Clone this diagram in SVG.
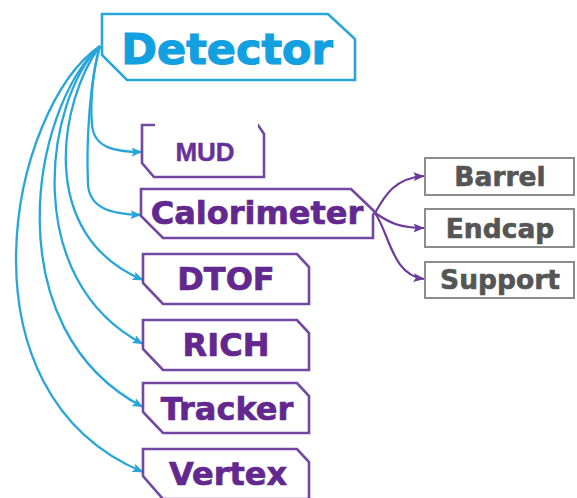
<svg xmlns="http://www.w3.org/2000/svg" width="577" height="498" viewBox="0 0 577 498">
<defs>
<style>
.cy{fill:none;stroke:#29a6d9;stroke-width:2.3;}
.pu{fill:none;stroke:#6d3a9c;stroke-width:2.2;}
.pbox{fill:#fff;stroke:#7348a3;stroke-width:2.6;}
.gbox{fill:#fff;stroke:#8c8c8c;stroke-width:2;}
.pt{font-family:"DejaVu Sans",sans-serif;font-weight:bold;font-size:32px;fill:#62288f;stroke:#62288f;stroke-width:0.7;text-anchor:middle;}
.gt{font-family:"DejaVu Sans",sans-serif;font-weight:bold;font-size:26.5px;fill:#555;stroke:#555;stroke-width:0.6;text-anchor:middle;}
</style>
<marker id="ac" viewBox="0 0 10 8" refX="9.5" refY="4" markerUnits="userSpaceOnUse" markerWidth="11" markerHeight="9" orient="auto"><path d="M0,0 L10,4 L0,8 L2,4 Z" fill="#29a6d9"/></marker>
<marker id="ap" viewBox="0 0 10 8" refX="9.5" refY="4" markerUnits="userSpaceOnUse" markerWidth="11" markerHeight="9" orient="auto"><path d="M0,0 L10,4 L0,8 L2,4 Z" fill="#6d3a9c"/></marker>
</defs>
<rect width="577" height="498" fill="#fff"/>
<g id="connectors">
<path class="cy" marker-end="url(#ac)" d="M100,46 C93,70 90,100 92,125 C94,148 115,152 142,152"/>
<path class="cy" marker-end="url(#ac)" d="M100,46 C90,80 86,140 88,185 C90,208 110,214 141,215"/>
<path class="cy" marker-end="url(#ac)" d="M100,46 C60,100 35,235 143,280"/>
<path class="cy" marker-end="url(#ac)" d="M100,46 C45,100 20,280 143,344"/>
<path class="cy" marker-end="url(#ac)" d="M100,46 C30,110 -5,330 143,407"/>
<path class="cy" marker-end="url(#ac)" d="M100,46 C10,108 -48,392 143,472"/>
<path class="pu" marker-end="url(#ap)" d="M375,213 C385,195 395,178 424,176"/>
<path class="pu" marker-end="url(#ap)" d="M375,213 C390,223 400,228 424,228"/>
<path class="pu" marker-end="url(#ap)" d="M375,213 C390,235 392,275 424,279"/>
</g>
<g id="detector">
<path d="M102,14 L328,14 L355,39 L355,80 L127,80 L102,55 Z" fill="#fff" stroke="#29a6d9" stroke-width="2.6"/>
<text x="227" y="64" font-family="DejaVu Sans,sans-serif" font-weight="bold" font-size="43" fill="#12a0e0" stroke="#12a0e0" stroke-width="1.2" text-anchor="middle">Detector</text>
</g>
<g id="mud">
<path class="pbox" d="M142,125 L258,125 L264,134 L264,177 L154,177 L142,163 Z"/>
<rect x="155" y="121" width="103" height="54" fill="#fff"/>
<text x="205" y="161" font-family="Liberation Sans,Arial,sans-serif" font-weight="bold" font-size="26" fill="#68309a" stroke="#68309a" stroke-width="0.4" text-anchor="middle">MUD</text>
</g>
<g id="calorimeter">
<path class="pbox" d="M141,189 L351,189 L375,212 L373,215 L373,238 L163,238 L141,216 Z"/>
<text class="pt" x="257" y="224">Calorimeter</text>
</g>
<g id="dtof">
<path class="pbox" d="M143,254 L297,254 L309,267 L309,304 L163,304 L143,283 Z"/>
<text class="pt" x="226" y="290">DTOF</text>
</g>
<g id="rich">
<path class="pbox" d="M143,320 L297,320 L309,333 L309,370 L163,370 L143,349 Z"/>
<text class="pt" x="226" y="356">RICH</text>
</g>
<g id="tracker">
<path class="pbox" d="M143,383 L297,383 L309,396 L309,433 L163,433 L143,412 Z"/>
<text class="pt" x="227" y="420">Tracker</text>
</g>
<g id="vertex">
<path class="pbox" d="M143,449 L297,449 L309,462 L309,499 L163,499 L143,476 Z"/>
<text class="pt" x="228" y="485">Vertex</text>
</g>
<g id="barrel">
<rect class="gbox" x="425" y="158" width="149" height="37"/>
<text class="gt" x="500" y="186">Barrel</text>
</g>
<g id="endcap">
<rect class="gbox" x="425" y="209" width="149" height="38"/>
<text class="gt" x="500" y="238">Endcap</text>
</g>
<g id="support">
<rect class="gbox" x="425" y="262" width="149" height="36"/>
<text class="gt" x="500" y="289">Support</text>
</g>
</svg>
